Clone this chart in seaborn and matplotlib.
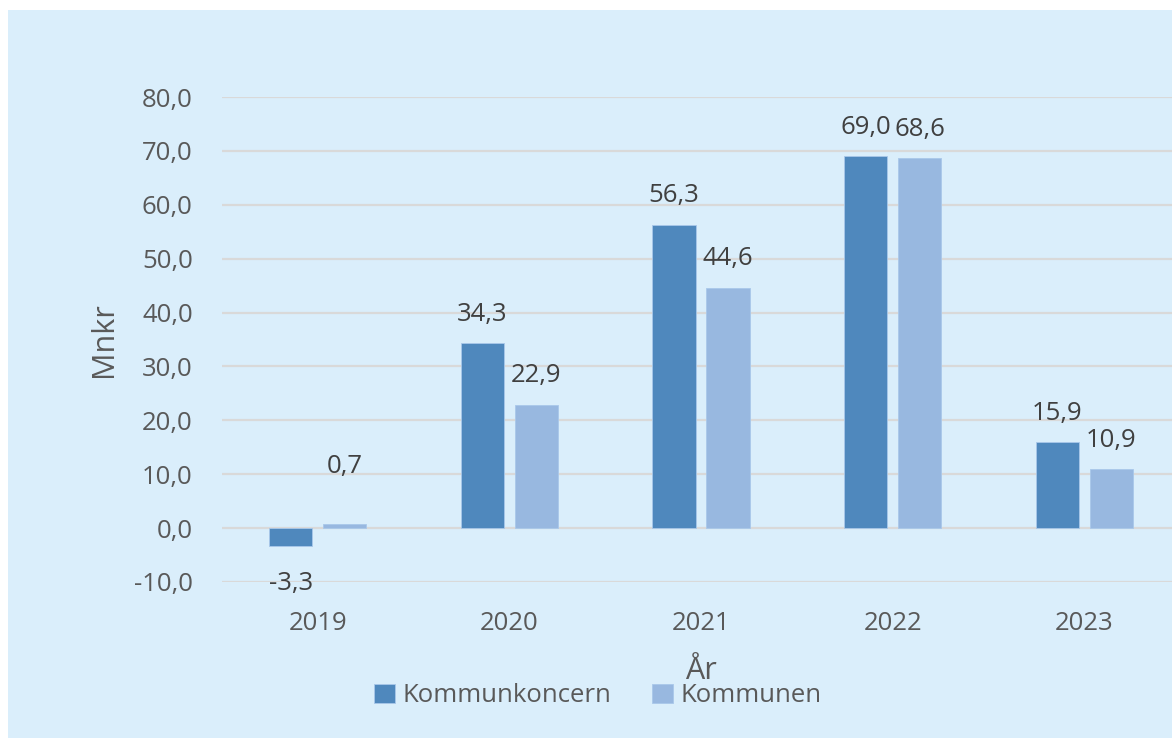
import matplotlib
matplotlib.use("Agg")
import matplotlib.pyplot as plt
import matplotlib.patches as mpatches
import seaborn as sns
import pandas as pd

years = ["2019", "2020", "2021", "2022", "2023"]
koncern = [-3.3, 34.3, 56.3, 69.0, 15.9]
kommunen = [0.7, 22.9, 44.6, 68.6, 10.9]
series = ["Kommunkoncern", "Kommunen"]
colors = ["#4F88BD", "#98B8E0"]
bg = "#DAEEFB"

df = pd.DataFrame({
    "År": years * 2,
    "Mnkr": koncern + kommunen,
    "serie": [series[0]] * len(years) + [series[1]] * len(years),
})

sns.set_theme(style="white")
plt.rcParams["font.family"] = ["Open Sans", "DejaVu Sans"]

W, H = 1172, 738
fig = plt.figure(figsize=(W / 100, H / 100), dpi=100, facecolor="white")
fig.patches.append(mpatches.Rectangle((8 / W, 0), 1, 1 - 10 / H, transform=fig.transFigure,
                                      facecolor=bg, edgecolor="none", zorder=-10))

ax = fig.add_axes([222 / W, 1 - 582 / H, (1180 - 222) / W, (582 - 97) / H])
ax.set_facecolor("none")

sns.barplot(data=df, x="År", y="Mnkr", hue="serie", palette=colors, ax=ax,
            width=0.564, gap=0.2, edgecolor="#A9C8EA", linewidth=0.6,
            saturation=1, legend=True, zorder=3)

ax.set_ylim(-10, 80)
ax.set_yticks(range(-10, 81, 10))
ax.set_yticklabels([f"{v:.1f}".replace(".", ",") for v in range(-10, 81, 10)])
ax.set_xlim(-0.5, 4.5)
ax.grid(axis="y", color="#D9D9D9", linewidth=1.6, zorder=0)
ax.grid(axis="x", visible=False)
for s in ax.spines.values():
    s.set_visible(False)
ax.tick_params(axis="both", length=0, labelsize=18.5, labelcolor="#595959")
ax.tick_params(axis="y", pad=21)
ax.tick_params(axis="x", pad=21)

ax.set_xlabel("År", fontsize=22, color="#595959", labelpad=14)
ax.set_ylabel("Mnkr", fontsize=22, color="#595959", labelpad=11)

for cont in ax.containers:
    for bar in cont:
        v = bar.get_height()
        x = bar.get_x() + bar.get_width() / 2
        if v < 0:
            off = -27
        elif v < 5:
            off = 42  # Excel pushes the label of the tiny bar higher up
        else:
            off = 21
        ax.annotate(f"{v:.1f}".replace(".", ","), (x, v), xytext=(0, off),
                    textcoords="offset points", ha="center", va="center",
                    fontsize=18.5, color="#404040", annotation_clip=False)

handles, labels = ax.get_legend_handles_labels()
ax.legend(handles, labels, loc="center", bbox_to_anchor=(598 / W, 1 - 696 / H),
          bbox_transform=fig.transFigure, ncol=2, frameon=False, fontsize=18.5,
          labelcolor="#595959", handlelength=0.8, handleheight=0.8,
          handletextpad=0.3, columnspacing=1.6)

fig.savefig("out.png", dpi=100, facecolor="white")
